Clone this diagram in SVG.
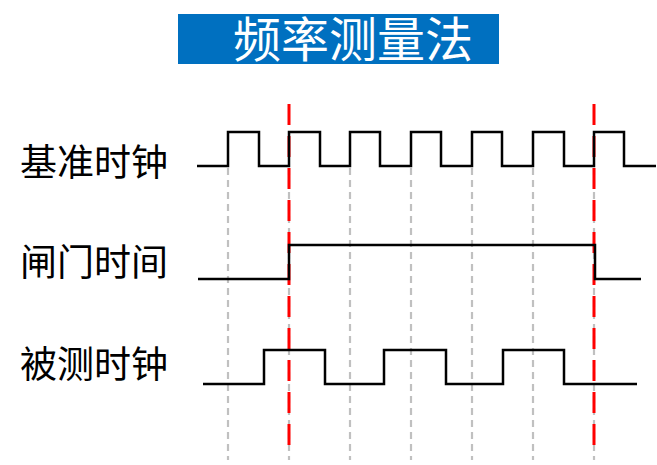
<svg xmlns="http://www.w3.org/2000/svg" width="657" height="465" viewBox="0 0 657 465">
<style>
.lbl{font-family:"Noto Sans CJK SC","Noto Sans",sans-serif;font-size:37px;fill:#000}
.title{font-family:"Noto Sans CJK SC","Noto Sans",sans-serif;font-size:48px;fill:#fff}
.sig{fill:none;stroke:#000;stroke-width:2.5}
.grid{stroke:#c0c0c0;stroke-width:2.2;stroke-dasharray:7 5}
.gate{stroke:#ff0000;stroke-width:3;stroke-dasharray:21 11}
</style>
<rect width="657" height="465" fill="#fff"/>
<g id="title">
<rect x="178" y="14" width="321" height="50" fill="#0070c0"/>
<text class="title" x="353" y="57" text-anchor="middle">频率测量法</text>
</g>
<g id="labels">
<text class="lbl" x="20" y="176">基准时钟</text>
<text class="lbl" x="20" y="276">闸门时间</text>
<text class="lbl" x="20" y="378">被测时钟</text>
</g>
<g id="connectors">
<line class="grid" x1="228" y1="168" x2="228" y2="460"/>
<line class="grid" x1="289" y1="168" x2="289" y2="460"/>
<line class="grid" x1="350" y1="168" x2="350" y2="460"/>
<line class="grid" x1="411" y1="168" x2="411" y2="460"/>
<line class="grid" x1="472" y1="168" x2="472" y2="460"/>
<line class="grid" x1="533" y1="168" x2="533" y2="460"/>
<line class="grid" x1="594" y1="168" x2="594" y2="460"/>
<line class="gate" x1="289" y1="104" x2="289" y2="445"/>
<line class="gate" x1="594" y1="104" x2="594" y2="445"/>
</g>
<g id="ref-clock">
<polyline class="sig" points="197,166 228,166 228,132 259,132 259,166 289,166 289,132 320,132 320,166 350,166 350,132 380,132 380,166 411,166 411,132 441,132 441,166 472,166 472,132 502,132 502,166 533,166 533,132 564,132 564,166 594,166 594,132 624,132 624,166 656,166"/>
</g>
<g id="gate-time">
<polyline class="sig" points="198,279 289,279 289,245 595,245 595,279 641,279"/>
</g>
<g id="meas-clock">
<polyline class="sig" points="203,384 264,384 264,350 325,350 325,384 384,384 384,350 446,350 446,384 503,384 503,350 564,350 564,384 637,384"/>
</g>
</svg>
